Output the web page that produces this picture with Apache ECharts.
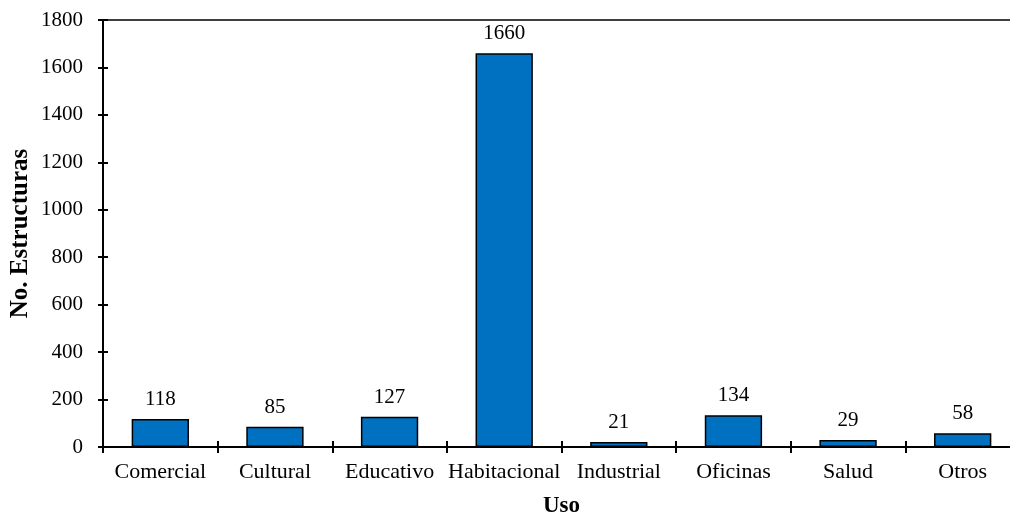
<!DOCTYPE html>
<html>
<head>
<meta charset="utf-8">
<script src="https://cdn.jsdelivr.net/npm/echarts@6/dist/echarts.min.js"></script>
<style>
html, body { margin: 0; padding: 0; background: #fff; }
#main { width: 1010px; height: 517px; }
</style>
</head>
<body>
<div id="main"></div>
<script>
var usos = ['Comercial', 'Cultural', 'Educativo', 'Habitacional', 'Industrial', 'Oficinas', 'Salud', 'Otros'];
var estructuras = [118, 85, 127, 1660, 21, 134, 29, 58];

var font = 'Liberation Serif';
var myChart = echarts.init(document.getElementById('main'));

var option = {
    backgroundColor: '#fff',
    animation: false,
    grid: {
        left: 103, top: 20, bottom: 70, right: -10,
        outerBoundsMode: 'none',
        containLabel: false,
        show: true, borderColor: '#000', borderWidth: 1.5
    },
    xAxis: [{
        type: 'category',
        data: usos,
        name: 'Uso',
        nameLocation: 'middle',
        nameGap: 48,
        nameTextStyle: { fontFamily: font, fontSize: 23, fontWeight: 'bold', color: '#000' },
        axisLine: { lineStyle: { color: '#000', width: 2 } },
        axisTick: { show: true, length: 6, lineStyle: { color: '#000', width: 2 } },
        axisLabel: { interval: 0, fontFamily: font, fontSize: 22, color: '#000', margin: 14 }
    }, {
        type: 'category',
        data: usos,
        position: 'bottom',
        axisLine: { show: false },
        axisTick: { show: true, inside: true, length: 6, lineStyle: { color: '#000', width: 2 } },
        axisLabel: { show: false }
    }],
    yAxis: [{
        type: 'value',
        min: 0, max: 1800, interval: 200,
        name: 'No. Estructuras',
        nameLocation: 'middle',
        nameGap: 70,
        nameMoveOverlap: false,
        nameTextStyle: { fontFamily: font, fontSize: 25, fontWeight: 'bold', color: '#000' },
        axisLine: { show: true, lineStyle: { color: '#000', width: 2 } },
        axisTick: { show: true, length: 5, lineStyle: { color: '#000', width: 2 } },
        axisLabel: { fontFamily: font, fontSize: 21, color: '#000', margin: 20, formatter: function (v) { return String(v); } },
        splitLine: { show: false }
    }, {
        type: 'value',
        min: 0, max: 1800, interval: 200,
        position: 'left',
        axisLine: { show: false },
        axisTick: { show: true, inside: true, length: 5, lineStyle: { color: '#000', width: 2 } },
        axisLabel: { show: false },
        splitLine: { show: false }
    }],
    series: [{
        type: 'bar',
        data: estructuras,
        barWidth: '50%',
        itemStyle: { color: '#0070C0', borderColor: '#000', borderWidth: 1.5 },
        label: { show: true, position: 'top', distance: 9, fontFamily: font, fontSize: 21, color: '#000' }
    }]
};
myChart.setOption(option);
</script>
</body>
</html>
